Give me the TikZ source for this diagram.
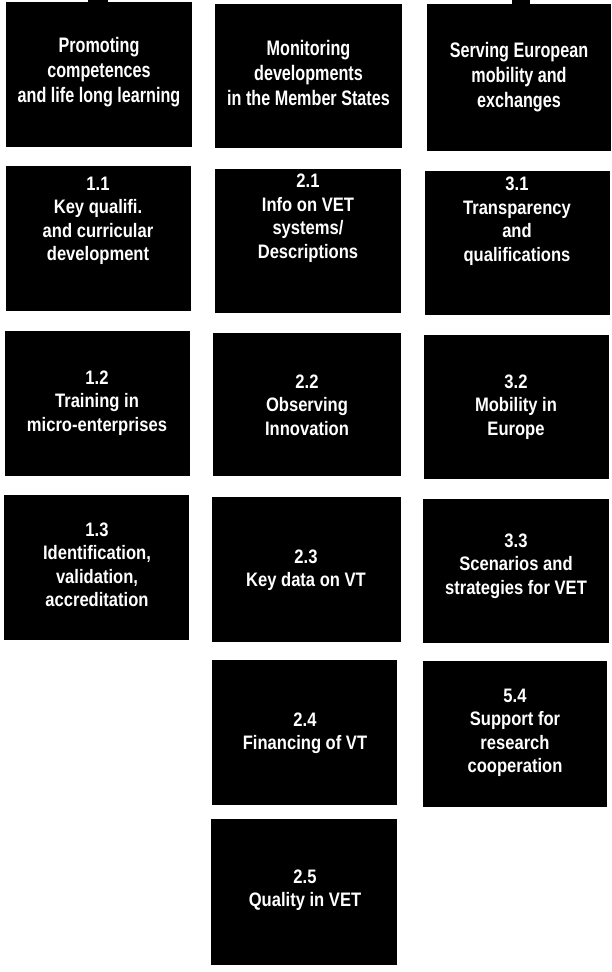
\documentclass[tikz,border=0pt]{standalone}
\usepackage{fontspec}
\newfontfamily\headfont[FakeStretch=0.77]{Liberation Sans}
\newfontfamily\bodyfont[FakeStretch=0.85]{Liberation Sans}
\begin{document}
\begin{tikzpicture}[x=1pt,y=-1pt,
  box/.style={fill=black,draw=none,inner sep=0pt,minimum width=#1},
  box/.default=186pt,
  headtxt/.style={text=white,align=center,inner sep=0pt,font=\headfont\bfseries\fontsize{21}{25}\selectfont},
  bodytxt/.style={text=white,align=center,inner sep=0pt,font=\bodyfont\bfseries\fontsize{19.5}{23.5}\selectfont}]
\useasboundingbox[fill=white] (0,0) rectangle (612,972);
% top row
\node[box=186pt,minimum height=145pt] (b1) at (99,74.5) {};
\node[box=20pt,minimum height=3pt] (tab1) at (98,1.5) {};
\node[box=187pt,minimum height=144pt] (b2) at (308.5,76) {};
\node[box=184pt,minimum height=147pt] (b3) at (519,77.5) {};
\node[box=18pt,minimum height=5pt] (tab3) at (521,2.5) {};
\node[headtxt] (t1) at (b1.center) [yshift=2.5pt] {Promoting\\competences\\and life long learning};
\node[headtxt] (t2) at (b2.center) [yshift=3pt] {Monitoring\\developments\\in the Member States};
\node[headtxt] (t3) at (b3.center) {Serving European\\mobility and\\exchanges};
% row 1
\node[box=185pt,minimum height=145pt] (b11) at (98.5,238.5) {};
\node[box=186pt,minimum height=144pt] (b21) at (308,241) {};
\node[box=185pt,minimum height=144pt] (b31) at (517.5,243) {};
\node[bodytxt] (t11) at (98,221) {1.1\\Key qualifi.\\and curricular\\development};
\node[bodytxt] (t21) at (308,218) {2.1\\Info on VET\\systems/\\Descriptions};
\node[bodytxt] (t31) at (517,221) {3.1\\Transparency\\and\\qualifications};
% row 2
\node[box=185pt,minimum height=145pt] (b12) at (97.5,403.5) {};
\node[box=188pt,minimum height=143pt] (b22) at (307,404.5) {};
\node[box=185pt,minimum height=144pt] (b32) at (516.5,407) {};
\node[bodytxt] (t12) at (97,403) {1.2\\Training in\\micro-enterprises};
\node[bodytxt] (t22) at (307,405) {2.2\\Observing\\Innovation};
\node[bodytxt] (t32) at (516,407) {3.2\\Mobility in\\Europe};
% row 3
\node[box=185pt,minimum height=145pt] (b13) at (96.5,567.5) {};
\node[box=189pt,minimum height=145pt] (b23) at (306.5,569.5) {};
\node[box=186pt,minimum height=144pt] (b33) at (516,571) {};
\node[bodytxt] (t13) at (97,565) {1.3\\Identification,\\validation,\\accreditation};
\node[bodytxt] (t23) at (306,570) {2.3\\Key data on VT};
\node[bodytxt] (t33) at (516,566) {3.3\\Scenarios and\\strategies for VET};
% row 4
\node[box=185pt,minimum height=145pt] (b24) at (304.5,732.5) {};
\node[box=184pt,minimum height=146pt] (b54) at (515,734) {};
\node[bodytxt] (t24) at (305,733) {2.4\\Financing of VT};
\node[bodytxt] (t54) at (515,733) {5.4\\Support for\\research\\cooperation};
% row 5
\node[box=186pt,minimum height=146pt] (b25) at (304,892) {};
\node[bodytxt] (t25) at (305,890) {2.5\\Quality in VET};
\end{tikzpicture}
\end{document}
